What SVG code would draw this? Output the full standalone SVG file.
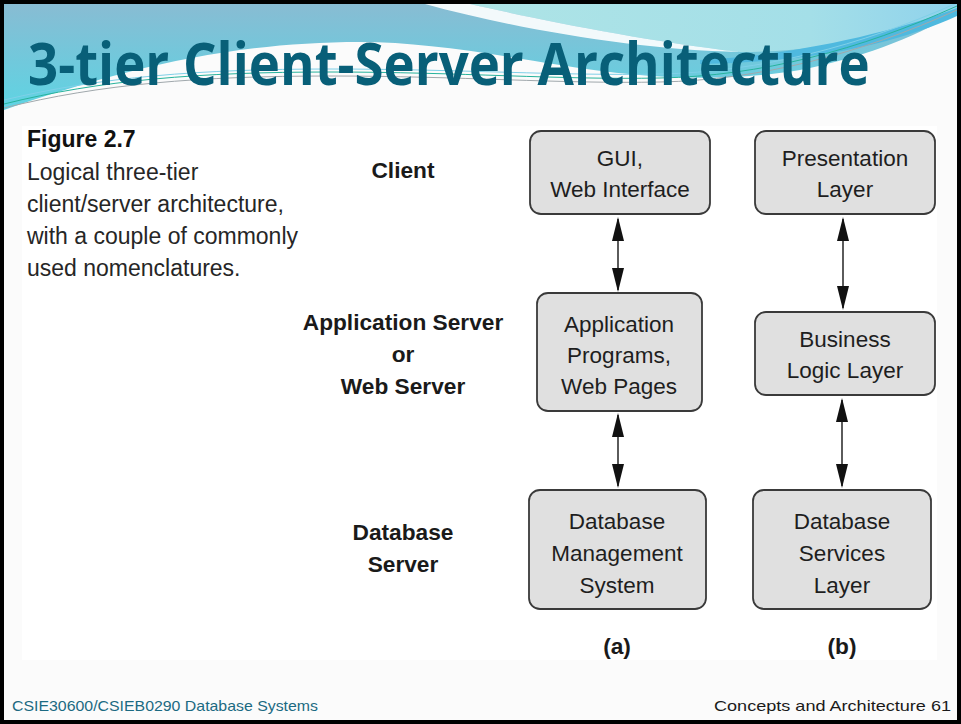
<svg xmlns="http://www.w3.org/2000/svg" width="961" height="724" viewBox="0 0 961 724">
  <defs>
    <linearGradient id="waveBlue" x1="0" y1="0" x2="0" y2="1">
      <stop offset="0" stop-color="#88bcd3"/>
      <stop offset="0.55" stop-color="#70c9dc"/>
      <stop offset="1" stop-color="#5ed4e3"/>
    </linearGradient>
    <linearGradient id="waveLight" x1="0" y1="0" x2="1" y2="0">
      <stop offset="0" stop-color="#aee4e6"/>
      <stop offset="0.7" stop-color="#a4dfe8"/>
      <stop offset="1" stop-color="#8fd2ec"/>
    </linearGradient>
    <marker id="head" viewBox="0 0 24 12" refX="22" refY="6" markerWidth="24" markerHeight="12" markerUnits="userSpaceOnUse" orient="auto-start-reverse">
      <path d="M0,0 L24,6 L0,12 Z" fill="#111"/>
    </marker>
    <style>
      .node rect { fill: #e0e0e0; stroke: #3a3a3a; stroke-width: 1.8; }
      .node text { font-family: "Liberation Sans", Arial, sans-serif; font-size: 22.5px; fill: #1e1e1e; text-anchor: middle; }
      .tier { font-family: "Liberation Sans", Arial, sans-serif; font-size: 22.7px; font-weight: bold; fill: #1a1a1a; text-anchor: middle; }
      .caption { font-family: "Liberation Sans", Arial, sans-serif; font-size: 23px; fill: #262626; }
      .link { stroke: #333; stroke-width: 1.6; fill: none; marker-start: url(#head); marker-end: url(#head); }
      .footer { font-family: "Liberation Sans", Arial, sans-serif; font-size: 15px; }
    </style>
  </defs>

  <!-- slide background -->
  <rect x="0" y="0" width="961" height="724" fill="#fbfbfb"/>

  <!-- header swoosh -->
  <g id="header-waves">
    <path d="M4,4 H957 V12 C910,40 860,58 800,70 C730,82 650,80 560,65 C480,52 420,42 360,42 C230,42 120,70 4,110 Z" fill="url(#waveBlue)"/>
    <path d="M470,4 H957 V10 C900,35 820,52 740,52 C640,40 540,20 470,4 Z" fill="url(#waveLight)"/>
    <path d="M425,4 L470,4 C540,20 640,40 740,52 C640,50 520,30 425,4 Z" fill="#ffffff" opacity="0.9"/>
    <path d="M700,60 C800,55 900,30 957,8 V16 C900,42 820,62 700,64 Z" fill="#4fb9df"/>
    <path d="M4,104 C100,80 200,72 330,72 C460,72 560,80 660,78 C760,76 860,50 957,6" fill="none" stroke="#27b39c" stroke-width="1"/>
    <path d="M4,108 C100,84 200,76 330,76 C460,76 560,84 660,82 C760,80 860,54 957,10" fill="none" stroke="#a0a8ac" stroke-width="1"/>
    <path d="M4,100 C100,77 200,69 330,69 C460,69 560,76 660,74 C760,72 860,46 957,3" fill="none" stroke="#7fd0e8" stroke-width="1"/>
  </g>

  <!-- title: condensed horizontally to the slide's title width -->
  <g transform="translate(28,85) scale(0.72,1)">
    <text x="0" y="0" font-family="'Open Sans', 'Liberation Sans', sans-serif" font-size="60" font-weight="bold" fill="#085f78" textLength="1169" lengthAdjust="spacingAndGlyphs">3-tier Client-Server Architecture</text>
  </g>

  <!-- figure panel -->
  <rect x="22" y="126" width="915" height="534" fill="#ffffff"/>

  <!-- caption -->
  <g id="caption">
    <text x="27" y="147" font-family="'Liberation Sans', Arial, sans-serif" font-size="23" font-weight="bold" fill="#111">Figure 2.7</text>
    <text class="caption" x="27" y="180">Logical three-tier</text>
    <text class="caption" x="27" y="212">client/server architecture,</text>
    <text class="caption" x="27" y="244">with a couple of commonly</text>
    <text class="caption" x="27" y="276">used nomenclatures.</text>
  </g>

  <!-- tier names -->
  <g id="tier-labels">
    <text class="tier" x="403" y="178">Client</text>
    <text class="tier" x="403" y="330">Application Server</text>
    <text class="tier" x="403" y="362">or</text>
    <text class="tier" x="403" y="394">Web Server</text>
    <text class="tier" x="403" y="540">Database</text>
    <text class="tier" x="403" y="572">Server</text>
  </g>

  <!-- connectors -->
  <g id="connectors">
    <line class="link" x1="618" y1="219" x2="618" y2="290"/>
    <line class="link" x1="618" y1="415" x2="618" y2="486"/>
    <line class="link" x1="843" y1="219" x2="843" y2="308"/>
    <line class="link" x1="842" y1="400" x2="842" y2="486"/>
  </g>

  <!-- column (a) -->
  <g id="gui" class="node">
    <rect x="530" y="131" width="180" height="83" rx="11"/>
    <text x="620" y="166">GUI,</text>
    <text x="620" y="197">Web Interface</text>
  </g>
  <g id="app-programs" class="node">
    <rect x="537" y="293" width="165" height="118" rx="11"/>
    <text x="619" y="332">Application</text>
    <text x="619" y="363">Programs,</text>
    <text x="619" y="394">Web Pages</text>
  </g>
  <g id="dbms" class="node">
    <rect x="529" y="490" width="177" height="119" rx="11"/>
    <text x="617" y="529">Database</text>
    <text x="617" y="561">Management</text>
    <text x="617" y="593">System</text>
  </g>

  <!-- column (b) -->
  <g id="presentation" class="node">
    <rect x="755" y="131" width="180" height="83" rx="11"/>
    <text x="845" y="166">Presentation</text>
    <text x="845" y="197">Layer</text>
  </g>
  <g id="business-logic" class="node">
    <rect x="755" y="312" width="180" height="83" rx="11"/>
    <text x="845" y="347">Business</text>
    <text x="845" y="378">Logic Layer</text>
  </g>
  <g id="db-services" class="node">
    <rect x="753" y="490" width="178" height="119" rx="11"/>
    <text x="842" y="529">Database</text>
    <text x="842" y="561">Services</text>
    <text x="842" y="593">Layer</text>
  </g>

  <!-- column captions -->
  <text class="tier" x="617" y="654">(a)</text>
  <text class="tier" x="842" y="654">(b)</text>

  <!-- footer -->
  <text class="footer" x="12" y="711" fill="#1b6a82" textLength="306" lengthAdjust="spacingAndGlyphs">CSIE30600/CSIEB0290 Database Systems</text>
  <text class="footer" x="714" y="711" fill="#1a1a1a" textLength="237" lengthAdjust="spacingAndGlyphs">Concepts and Architecture 61</text>

  <!-- slide frame -->
  <rect x="2" y="2" width="957" height="720" fill="none" stroke="#000" stroke-width="4"/>
</svg>
